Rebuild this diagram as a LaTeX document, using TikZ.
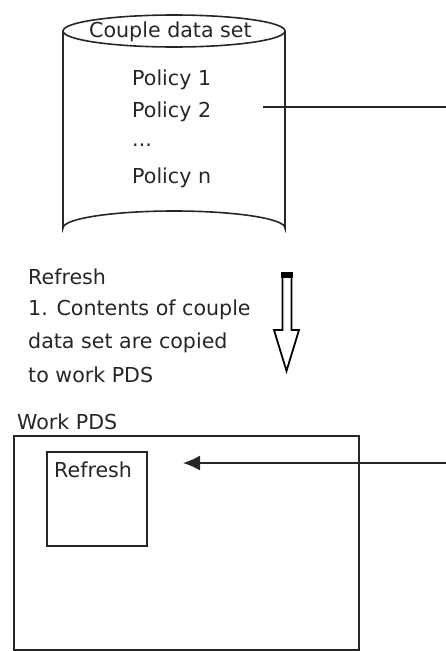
\documentclass[tikz,border=0pt]{standalone}
\usepackage{fontspec}
\setmainfont{DejaVu Sans}
\usetikzlibrary{arrows.meta}
\begin{document}
\begin{tikzpicture}[x=1pt,y=-1pt,
  line/.style={draw=black!85, line width=1.6pt},
  lbl/.style={font=\fontsize{20.6}{23}\selectfont, text=black!85, inner sep=0pt, anchor=west},
  hollowarrow/.style={draw=black, line width=1.8pt, fill=white}]
\useasboundingbox (0,0) rectangle (446,651);
% cylinder
\draw[line] (63,31) -- (63,228) arc[start angle=180, end angle=360, x radius=111, y radius=17] -- (285,31);
\draw[line] (174,31) ellipse[x radius=111, y radius=16];
\node[lbl] (cds) at (89,32) {Couple data set};
\node[lbl] (p1) at (132,80) {Policy 1};
\node[lbl] (p2) at (132,112) {Policy 2};
\node[lbl] (pd) at (132,145) {...};
\node[lbl] (pn) at (132,178) {Policy n};
\coordinate (c1) at (263,107);
\coordinate (c1e) at (446,107);
\draw[line] (c1) -- (c1e);
% text
\node[lbl] (t1) at (28,277) {Refresh};
\node[lbl] (t2) at (28,310) {1. Contents of couple};
\node[lbl] (t3) at (28,343) {data set are copied};
\node[lbl] (t4) at (28,375) {to work PDS};
% hollow arrow
\draw[hollowarrow] (282.5,273) -- (291.5,273) -- (291.5,330) -- (299,330) -- (286.5,371) -- (274,330) -- (282.5,330) -- cycle;
\fill[black] (281,271.5) rectangle (293,278);
% work PDS
\node[lbl] (wl) at (17,422) {Work PDS};
\node[line, minimum width=345pt, minimum height=214pt, inner sep=0pt] (wpds) at (186.5,543) {};
\node[line, minimum width=100pt, minimum height=94pt, inner sep=0pt] (rbox) at (97,499) {};
\node[lbl] (rtxt) at (54,470) {Refresh};
\coordinate (a2s) at (446,463);
\coordinate (a2e) at (183,463);
\draw[draw=black!85, line width=1.3pt, -{Latex[length=17pt,width=15pt]}] (a2s) -- (a2e);
\end{tikzpicture}
\end{document}
